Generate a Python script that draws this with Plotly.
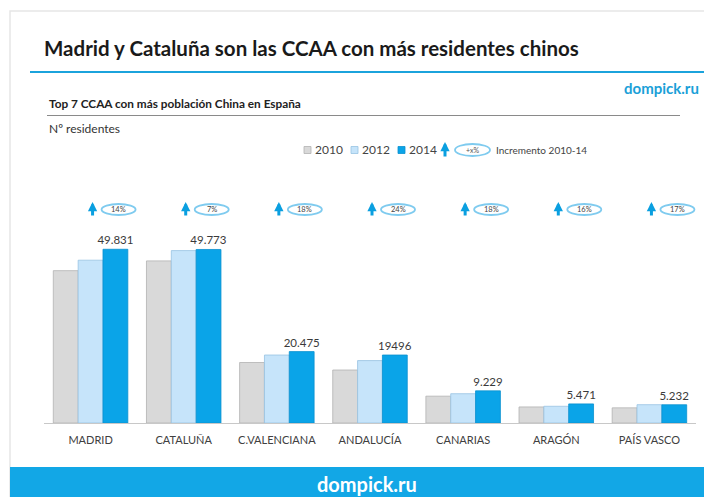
import plotly.graph_objects as go

# ---- data ----
regions = ["MADRID", "CATALUÑA", "C.VALENCIANA", "ANDALUCÍA", "CANARIAS", "ARAGÓN", "PAÍS VASCO"]
years = ["2010", "2012", "2014"]
v2010 = [43700, 46500, 17350, 15200, 7700, 4600, 4350]
v2012 = [46700, 49450, 19500, 17900, 8400, 4800, 5250]
v2014 = [49831, 49773, 20475, 19496, 9229, 5471, 5232]
labels2014 = ["49.831", "49.773", "20.475", "19496", "9.229", "5.471", "5.232"]
increments = ["14%", "7%", "18%", "24%", "18%", "16%", "17%"]

# page body has an 8px margin: figure covers the window from (8, 8)
OFF = 8
W, H = 712 - OFF, 497 - OFF
ML, MR, MT, MB = 44 - OFF, 16, 180 - OFF, 74
PW, PH = W - ML - MR, H - MT - MB


def px_x(x):
    return (x - OFF - ML) / PW


def px_y(y):
    return (H - MB - (y - OFF)) / PH


fills = ["#d9d9d9", "#c6e4fa", "#0aa4e8"]
lines = ["#b3b3b3", "#98c3e2", "#0a90cf"]
series = [v2010, v2012, v2014]
FONT = "Lato"
BLUE = "#0a9fe0"
RING = "#7fcbef"
ARROW = dict(showarrow=True, arrowhead=2, arrowsize=0.62, arrowwidth=3, arrowcolor=BLUE)

fig = go.Figure()
for i, (yr, vals) in enumerate(zip(years, series)):
    kw = {}
    if yr == "2014":
        kw = dict(text=labels2014, textposition="outside", constraintext="none",
                  textfont=dict(size=11.5, color="#3a3a3a", family=FONT), cliponaxis=False)
    fig.add_trace(go.Bar(x=regions, y=vals, name=yr,
                         marker=dict(color=fills[i], line=dict(color=lines[i], width=0.8)),
                         showlegend=False, **kw))

shapes = []
annotations = []

# frame and header/footer decoration
shapes.append(dict(type="rect", xref="paper", yref="paper", x0=px_x(10), x1=px_x(740),
                   y0=px_y(520), y1=px_y(11), line=dict(color="#e6e6e6", width=1.5),
                   fillcolor="rgba(0,0,0,0)", layer="below"))
shapes.append(dict(type="line", xref="paper", yref="paper", x0=px_x(30), x1=px_x(712),
                   y0=px_y(72), y1=px_y(72), line=dict(color="#1ba3dc", width=2.2)))
shapes.append(dict(type="line", xref="paper", yref="paper", x0=px_x(47), x1=px_x(680),
                   y0=px_y(115.5), y1=px_y(115.5), line=dict(color="#8a8a8a", width=1)))
shapes.append(dict(type="rect", xref="paper", yref="paper", x0=px_x(10), x1=px_x(712),
                   y0=px_y(497), y1=px_y(467), line=dict(width=0), fillcolor="#12a7e6"))

annotations.append(dict(text="<b>Madrid y Cataluña son las CCAA con más residentes chinos</b>",
                        xref="paper", yref="paper", x=px_x(42), y=px_y(48), xanchor="left",
                        yanchor="middle", showarrow=False,
                        font=dict(size=20.5, color="#1a1a1a", family=FONT)))
annotations.append(dict(text="<b>dompick.ru</b>", xref="paper", yref="paper", x=px_x(701),
                        y=px_y(88), xanchor="right", yanchor="middle", showarrow=False,
                        font=dict(size=15, color="#1aa0d8", family=FONT)))
annotations.append(dict(text="<b>Top 7 CCAA con más población China en España</b>", xref="paper",
                        yref="paper", x=px_x(47), y=px_y(103), xanchor="left", yanchor="middle",
                        showarrow=False, font=dict(size=11.8, color="#222222", family=FONT)))
annotations.append(dict(text="Nº residentes", xref="paper", yref="paper", x=px_x(47),
                        y=px_y(128), xanchor="left", yanchor="middle", showarrow=False,
                        font=dict(size=12, color="#333333", family=FONT)))
annotations.append(dict(text="<b>dompick.ru</b>", xref="paper", yref="paper", x=px_x(367),
                        y=px_y(484), xanchor="center", yanchor="middle", showarrow=False,
                        font=dict(size=20, color="white", family=FONT)))

# legend (manual)
leg_x = [304, 351, 398]
for i, yr in enumerate(years):
    shapes.append(dict(type="rect", xref="paper", yref="paper",
                       x0=px_x(leg_x[i]), x1=px_x(leg_x[i] + 7),
                       y0=px_y(153.5), y1=px_y(146.5), fillcolor=fills[i],
                       line=dict(color=lines[i], width=0.8)))
    annotations.append(dict(text=yr, xref="paper", yref="paper", x=px_x(leg_x[i] + 9),
                            y=px_y(150), xanchor="left", yanchor="middle", showarrow=False,
                            font=dict(size=12, color="#444444", family=FONT)))
# legend arrow + ellipse
annotations.append(dict(text="", xref="paper", yref="paper", x=px_x(445), y=px_y(142),
                        ax=0, ay=16, **ARROW))
shapes.append(dict(type="circle", xref="paper", yref="paper", x0=px_x(455), x1=px_x(490),
                   y0=px_y(156), y1=px_y(144), line=dict(color=RING, width=1.8)))
annotations.append(dict(text="+x%", xref="paper", yref="paper", x=px_x(472.5), y=px_y(150),
                        xanchor="center", yanchor="middle", showarrow=False,
                        font=dict(size=7, color="#555555", family=FONT)))
annotations.append(dict(text="Incremento 2010-14", xref="paper", yref="paper", x=px_x(494),
                        y=px_y(150), xanchor="left", yanchor="middle", showarrow=False,
                        font=dict(size=10, color="#444444", family=FONT)))

# increment markers per region
for i, (reg, inc) in enumerate(zip(regions, increments)):
    annotations.append(dict(text="", xref="x", yref="paper", x=reg, xshift=2, y=px_y(202),
                            ax=0, ay=15, **ARROW))
    shapes.append(dict(type="circle", xref="x", yref="paper", xsizemode="pixel", xanchor=i,
                       x0=11, x1=45, y0=px_y(215), y1=px_y(204),
                       line=dict(color=RING, width=1.8)))
    annotations.append(dict(text=inc, xref="x", yref="paper", x=reg, xshift=28, y=px_y(209.5),
                            xanchor="center", yanchor="middle", showarrow=False,
                            font=dict(size=7.5, color="#444444", family=FONT)))

fig.update_layout(
    width=W, height=H,
    margin=dict(l=ML, r=MR, t=MT, b=MB),
    paper_bgcolor="white", plot_bgcolor="white",
    barmode="group", bargap=0.2, bargroupgap=0,
    showlegend=False,
    shapes=shapes, annotations=annotations,
    xaxis=dict(showline=True, linecolor="#c8c8c8", linewidth=1, ticks="",
               ticklabelstandoff=7,
               tickfont=dict(size=11, color="#404040", family=FONT), showgrid=False),
    yaxis=dict(range=[0, 69700], visible=False, showgrid=False),
)

fig.write_html("out.html")
